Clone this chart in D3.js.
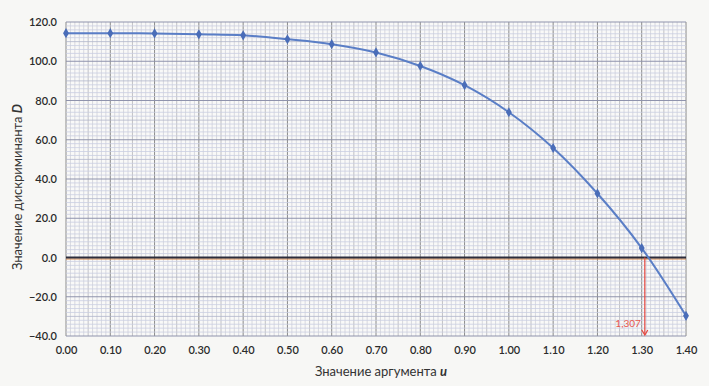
<!DOCTYPE html>
<html><head><meta charset="utf-8">
<script src="https://cdn.jsdelivr.net/npm/d3@7"></script>
<style>
html,body{margin:0;padding:0;background:#f7f7f5;}
svg{display:block;}
text{font-family:Lato,"Open Sans","Noto Sans",sans-serif;}
</style></head>
<body>
<svg id="c" width="709" height="386"></svg>
<script>
// ---- data ----
const uValues = [0.0,0.1,0.2,0.3,0.4,0.5,0.6,0.7,0.8,0.9,1.0,1.1,1.2,1.3,1.4];
const dValues = [114.3,114.3,114.2,113.7,113.2,111.2,108.7,104.5,97.6,87.8,74.0,55.8,32.6,4.8,-29.7];
const xTicks = [0,0.1,0.2,0.3,0.4,0.5,0.6,0.7,0.8,0.9,1.0,1.1,1.2,1.3,1.4];
const yTicks = [-40,-20,0,20,40,60,80,100,120];
const rootValue = [1.307];
const rootLabel = ["1,307"];

const svg = d3.select("#c");
const x = d3.scaleLinear().domain([0,1.4]).range([66,686]);
const y = d3.scaleLinear().domain([-40,120]).range([336,22]);

// background of plot
svg.append("rect").attr("x",x(0)).attr("y",y(120)).attr("width",x(1.4)-x(0)).attr("height",y(-40)-y(120)).attr("fill","#f9f9f8");

const g = svg.append("g");
// minor grid (graph paper)
const minorX = d3.range(0,141).map(i=>i/100);
const minorY = d3.range(-40,121,2);
g.selectAll(".mx").data(minorX).join("line")
 .attr("x1",d=>x(d)).attr("x2",d=>x(d)).attr("y1",y(120)).attr("y2",y(-40))
 .attr("stroke",(d,i)=> i%10===0 ? "#8a8a8a" : (i%5===0 ? "#b2b2b8" : "#cfd0d8"))
 .attr("stroke-width",(d,i)=> i%10===0 ? 1 : 0.8);
g.selectAll(".my").data(minorY).join("line")
 .attr("y1",d=>y(d)).attr("y2",d=>y(d)).attr("x1",x(0)).attr("x2",x(1.4))
 .attr("stroke",d=> d%20===0 ? "#8f93ad" : (d%10===0 ? "#b0b5cc" : "#c9cee2"))
 .attr("stroke-width",d=> d%20===0 ? 1 : 0.8);

// axes labels
const yAxis = d3.axisLeft(y).tickValues(yTicks).tickFormat(d3.format(".1f")).tickSize(0).tickPadding(9);
const ya = svg.append("g").attr("transform",`translate(${x(0)},0)`).call(yAxis);
ya.select(".domain").remove();
ya.selectAll("text").attr("fill","#2b2b2b").style("font-size","11px").style("font-weight","600");

const xAxis = d3.axisBottom(x).tickValues(xTicks).tickFormat(d3.format(".2f")).tickSize(0).tickPadding(10);
const xa = svg.append("g").attr("transform",`translate(0,${y(-40)})`).call(xAxis);
xa.select(".domain").remove();
xa.selectAll("text").attr("fill","#2b2b2b").style("font-size","11px").style("font-weight","600");

// zero line
svg.append("line").attr("x1",x(0)).attr("x2",x(1.4)).attr("y1",y(0)+1.5).attr("y2",y(0)+1.5)
 .attr("stroke","#d9823f").attr("stroke-width",1);
svg.append("line").attr("x1",x(0)).attr("x2",x(1.4)).attr("y1",y(0)).attr("y2",y(0))
 .attr("stroke","#2c2d3c").attr("stroke-width",2);

// red root arrow
const rx = x(rootValue[0]);
svg.append("line").attr("x1",rx).attr("x2",rx).attr("y1",y(0)).attr("y2",y(-40)-1)
 .attr("stroke","#e5483f").attr("stroke-width",1.2);
svg.append("path").attr("d",`M${rx-3},${y(-40)-6} L${rx},${y(-40)-1} L${rx+3},${y(-40)-6}`)
 .attr("fill","none").attr("stroke","#e5483f").attr("stroke-width",1.2);
svg.append("text").attr("x",rx-4).attr("y",y(-35.5)).attr("text-anchor","end")
 .attr("fill","#e8574d").style("font-size","10px").text(rootLabel[0]);

// series
const pts = uValues.map((u,i)=>[u,dValues[i]]);
svg.append("path").datum(pts)
 .attr("d",d3.line().x(d=>x(d[0])).y(d=>y(d[1])).curve(d3.curveCatmullRom.alpha(0.5)))
 .attr("fill","none").attr("stroke","#5a7ec6").attr("stroke-width",2);
svg.selectAll(".pt").data(pts).join("path")
 .attr("transform",d=>`translate(${x(d[0])},${y(d[1])})`)
 .attr("d",d3.symbol(d3.symbolDiamond,30))
 .attr("fill","#4a6db8");

// titles
const xt = svg.append("text").attr("x",381).attr("y",376).attr("text-anchor","middle")
 .attr("fill","#333").style("font-size","13px");
xt.append("tspan").text("Значение аргумента ");
xt.append("tspan").style("font-weight","bold").style("font-style","italic").text("u");

const yt = svg.append("text").attr("transform","translate(22,187) rotate(-90)").attr("text-anchor","middle")
 .attr("fill","#333").style("font-size","13px");
yt.append("tspan").text("Значение дискриминанта ");
yt.append("tspan").style("font-weight","bold").style("font-style","italic").text("D");
</script>
</body></html>
